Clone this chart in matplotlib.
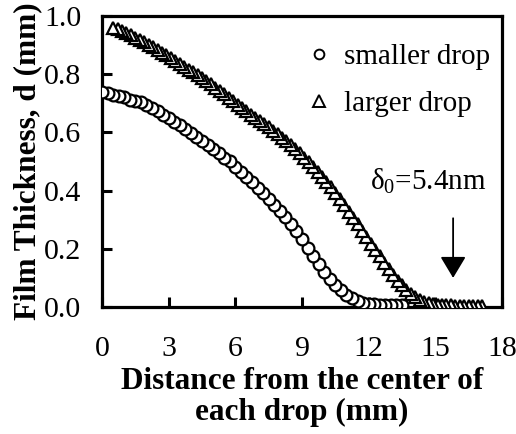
import matplotlib
matplotlib.use("Agg")
import matplotlib.pyplot as plt
from matplotlib.lines import Line2D

plt.rcParams['font.family'] = ['Liberation Serif', 'DejaVu Serif']
plt.rcParams['mathtext.fontset'] = 'custom'
plt.rcParams['mathtext.rm'] = 'Liberation Serif'
plt.rcParams['mathtext.it'] = 'Liberation Serif'

# smaller drop (circles)
small_x = [0.00, 0.25, 0.50, 0.75, 1.00, 1.25, 1.50, 1.75, 2.00, 2.25, 2.50, 2.75,
           3.00, 3.25, 3.50, 3.75, 4.00, 4.25, 4.50, 4.75, 5.00, 5.25, 5.50, 5.75,
           6.00, 6.25, 6.50, 6.75, 7.00, 7.25, 7.50, 7.75, 8.00, 8.25, 8.50, 8.75,
           9.00, 9.25, 9.50, 9.75, 10.00, 10.25, 10.50, 10.75, 11.00, 11.25, 11.50,
           11.75, 12.00, 12.25, 12.50, 12.75, 13.00, 13.25, 13.50]
small_y = [0.740, 0.735, 0.730, 0.725, 0.720, 0.713, 0.708, 0.703, 0.695, 0.685, 0.672, 0.660,
           0.648, 0.637, 0.625, 0.612, 0.598, 0.585, 0.570, 0.556, 0.542, 0.528, 0.512, 0.502,
           0.482, 0.465, 0.448, 0.430, 0.410, 0.392, 0.372, 0.352, 0.330, 0.308, 0.285, 0.262,
           0.232, 0.202, 0.175, 0.148, 0.120, 0.096, 0.076, 0.057, 0.041, 0.030, 0.020,
           0.014, 0.010, 0.009, 0.008, 0.008, 0.008, 0.008, 0.008]

# larger drop (triangles)
large_x = [0.5, 0.7, 0.9, 1.1, 1.3, 1.5, 1.7, 1.9, 2.1, 2.3, 2.5, 2.7, 2.9, 3.1, 3.3, 3.5,
           3.7, 3.9, 4.1, 4.3, 4.5, 4.7, 4.9, 5.1, 5.3, 5.5, 5.7, 5.9, 6.1, 6.3, 6.5, 6.7,
           6.9, 7.1, 7.3, 7.5, 7.7, 7.9, 8.1, 8.3, 8.5, 8.7, 8.9, 9.1, 9.3, 9.5, 9.7, 9.9,
           10.1, 10.3, 10.5, 10.7, 10.9, 11.1, 11.3, 11.5, 11.7, 11.9, 12.1, 12.3, 12.5,
           12.7, 12.9, 13.1, 13.3, 13.5, 13.7, 13.9, 14.1, 14.3, 14.5, 14.7, 14.9, 15.1,
           15.3, 15.5, 15.7, 15.9, 16.1, 16.3, 16.5, 16.7, 16.9, 17.1]
large_y = [0.960, 0.954, 0.948, 0.941, 0.933, 0.925, 0.917, 0.909, 0.901, 0.892, 0.883, 0.874,
           0.865, 0.856, 0.846, 0.836, 0.826, 0.816, 0.806, 0.796, 0.786, 0.775, 0.765, 0.754,
           0.743, 0.731, 0.719, 0.707, 0.695, 0.684, 0.673, 0.661, 0.650, 0.639, 0.628, 0.617,
           0.606, 0.594, 0.582, 0.569, 0.556, 0.542, 0.528, 0.513, 0.497, 0.481, 0.465, 0.448,
           0.430, 0.411, 0.391, 0.370, 0.349, 0.328, 0.306, 0.284, 0.262, 0.240, 0.218, 0.196,
           0.174, 0.152, 0.130, 0.110, 0.091, 0.074, 0.058, 0.045, 0.034, 0.025, 0.018, 0.013,
           0.010, 0.008, 0.007, 0.006, 0.006, 0.005, 0.005, 0.005, 0.005, 0.005, 0.005, 0.005]

x_ticks = [0, 3, 6, 9, 12, 15, 18]
y_ticks = [0.0, 0.2, 0.4, 0.6, 0.8, 1.0]
series_labels = ["smaller drop", "larger drop"]
note_text = r"$\mathrm{\delta_0}$=5.4nm"
note_x, note_y = 14.7, 0.433
arrow_x, arrow_y0, arrow_y1 = 15.8, 0.305, 0.10

fig = plt.figure(figsize=(5.16, 4.34), dpi=100)
ax = fig.add_axes([102/516, 1 - 307/434, 400/516, 291/434])

mk = dict(linestyle='none', markerfacecolor='white', markeredgecolor='black',
          markeredgewidth=1.6, markersize=8.5)
ax.plot(small_x[::-1], small_y[::-1], marker='o', **mk, zorder=3)
ax.plot(large_x[::-1], large_y[::-1], marker='^', **mk, zorder=3)

ax.set_xlim(0, 18)
ax.set_ylim(0, 1.0)
ax.set_xticks(x_ticks)
ax.set_yticks(y_ticks)
ax.set_yticklabels([f"{v:.1f}" for v in y_ticks])
ax.tick_params(direction='in', length=7, width=2.2, labelsize=21.5,
               top=False, right=False)
ax.tick_params(axis='x', pad=21)
ax.tick_params(axis='y', pad=15)
for s in ax.spines.values():
    s.set_linewidth(2.3)

ax.set_xlabel("Distance from the center of\neach drop (mm)", fontsize=22.5,
              fontweight='bold', linespacing=1.12)
ax.xaxis.set_label_coords(0.5, -0.205)
ax.set_ylabel("Film Thickness, d (mm)", fontsize=22.5, fontweight='bold')
ax.yaxis.set_label_coords(-0.15, 0.5)

handles = [Line2D([], [], marker='o', linestyle='none', markerfacecolor='white',
                  markeredgecolor='black', markeredgewidth=1.4, markersize=7),
           Line2D([], [], marker='^', linestyle='none', markerfacecolor='white',
                  markeredgecolor='black', markeredgewidth=1.4, markersize=8)]
ax.legend(handles, series_labels, loc='upper right', frameon=False, fontsize=21,
          handlelength=0.8, handletextpad=0.45, labelspacing=0.7,
          borderaxespad=0.0, bbox_to_anchor=(1.0, 0.945))

ax.text(note_x, note_y, note_text, fontsize=21, ha='center', va='center')
ax.annotate("", xy=(arrow_x, arrow_y1), xytext=(arrow_x, arrow_y0),
            arrowprops=dict(arrowstyle='-|>,head_length=0.6,head_width=0.36',
                            mutation_scale=22, lw=1.3, color='black',
                            shrinkA=0, shrinkB=0))

fig.savefig("out.png", dpi=100)
